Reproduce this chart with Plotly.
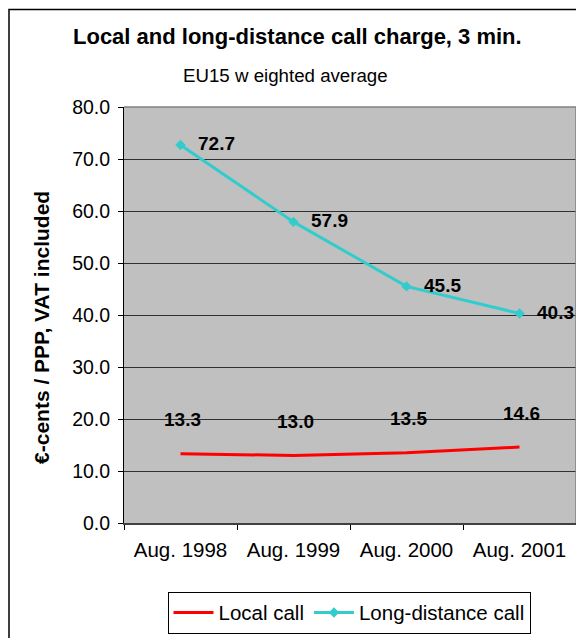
import plotly.graph_objects as go

# data
periods = ["Aug. 1998", "Aug. 1999", "Aug. 2000", "Aug. 2001"]
local_call = [13.3, 13.0, 13.5, 14.6]
long_distance_call = [72.7, 57.9, 45.5, 40.3]
y_ticks = [0, 10, 20, 30, 40, 50, 60, 70, 80]

FONT = "Liberation Sans, Arial, sans-serif"
W, H = 584, 638
OFF = 8  # the page body adds an 8px margin, so shift everything back
# plot area in screen pixels: x 124..576, y 107..525
L, R, T, B = 124 - OFF, W - (576 - OFF), 107 - OFF, H - (525 - OFF)
PW, PH = W - L - R, H - T - B


def px_x(x):
    return (x - OFF - L) / PW


def px_y(y):
    return (H - B - (y - OFF)) / PH


fig = go.Figure()

fig.add_trace(go.Scatter(
    x=periods, y=local_call, name="Local call",
    mode="lines", line=dict(color="#FF0000", width=3),
))

fig.add_trace(go.Scatter(
    x=periods, y=long_distance_call, name="Long-distance call",
    mode="lines+markers",
    line=dict(color="#33CCCC", width=3),
    marker=dict(symbol="diamond", size=8, color="#33CCCC"),
))

# data labels
for p, v in zip(periods, long_distance_call):
    fig.add_annotation(
        x=p, y=v, text=f"<b>{v:.1f}</b>", showarrow=False,
        xanchor="left", xshift=15, yshift=1,
        font=dict(family=FONT, size=19, color="black"),
    )
for p, v in zip(periods, local_call):
    fig.add_annotation(
        x=p, y=v, text=f"<b>{v:.1f}</b>", showarrow=False,
        xshift=2, yshift=34, font=dict(family=FONT, size=19, color="black"),
    )

# titles
fig.add_annotation(
    xref="paper", yref="paper", x=px_x(297), y=px_y(36),
    xanchor="center", yanchor="middle",
    text="<b>Local and long-distance call charge, 3 min.</b>", showarrow=False,
    font=dict(family=FONT, size=22, color="black"),
)
fig.add_annotation(
    xref="paper", yref="paper", x=px_x(285), y=px_y(75),
    xanchor="center", yanchor="middle",
    text="EU15 w eighted average", showarrow=False,
    font=dict(family=FONT, size=18.7, color="black"),
)
fig.add_annotation(
    xref="paper", yref="paper", x=px_x(42), y=px_y(329), textangle=-90,
    xanchor="center", yanchor="middle",
    text="<b>€-cents / PPP, VAT included</b>", showarrow=False,
    font=dict(family=FONT, size=21, color="black"),
)

# outer chart border (only left and top visible in the crop)
fig.add_shape(
    type="rect", xref="paper", yref="paper",
    x0=px_x(9), x1=px_x(620), y0=px_y(680), y1=px_y(9),
    line=dict(color="black", width=1.5), fillcolor="rgba(0,0,0,0)", layer="below",
)

fig.update_layout(
    width=W, height=H,
    margin=dict(l=L, r=R, t=T, b=B),
    paper_bgcolor="white",
    plot_bgcolor="#C0C0C0",
    font=dict(family=FONT, size=20, color="black"),
    showlegend=True,
    legend=dict(
        orientation="h", x=px_x(349), xanchor="center", xref="paper",
        y=px_y(594), yanchor="top",
        bordercolor="black", borderwidth=1, bgcolor="white",
        font=dict(family=FONT, size=20.5),
        itemwidth=40, tracegroupgap=0,
    ),
)

fig.update_xaxes(
    type="category", range=[-0.5, 3.5], automargin=False,
    showgrid=False, ticks="outside", tickson="boundaries",
    ticklen=5, tickcolor="black", ticklabelstandoff=7,
    showline=True, linecolor="#404040", linewidth=2, mirror=False,
    tickfont=dict(family=FONT, size=20.5),
)
fig.update_yaxes(
    range=[0, 80], tickvals=y_ticks, tickformat=".1f", automargin=False,
    ticks="outside", ticklen=5, tickcolor="black", ticklabelstandoff=4,
    showgrid=True, gridcolor="#303030", gridwidth=1,
    showline=True, linecolor="black", linewidth=1,
    zeroline=False,
    tickfont=dict(family=FONT, size=19.5),
)

# grey right and top edges of the plot area
fig.add_shape(type="line", xref="paper", yref="paper", x0=1, x1=1, y0=0, y1=1,
              line=dict(color="#808080", width=1.5))
fig.add_shape(type="line", xref="paper", yref="paper", x0=0, x1=1, y0=1, y1=1,
              line=dict(color="#808080", width=1.5))

fig.write_html("out.html")
